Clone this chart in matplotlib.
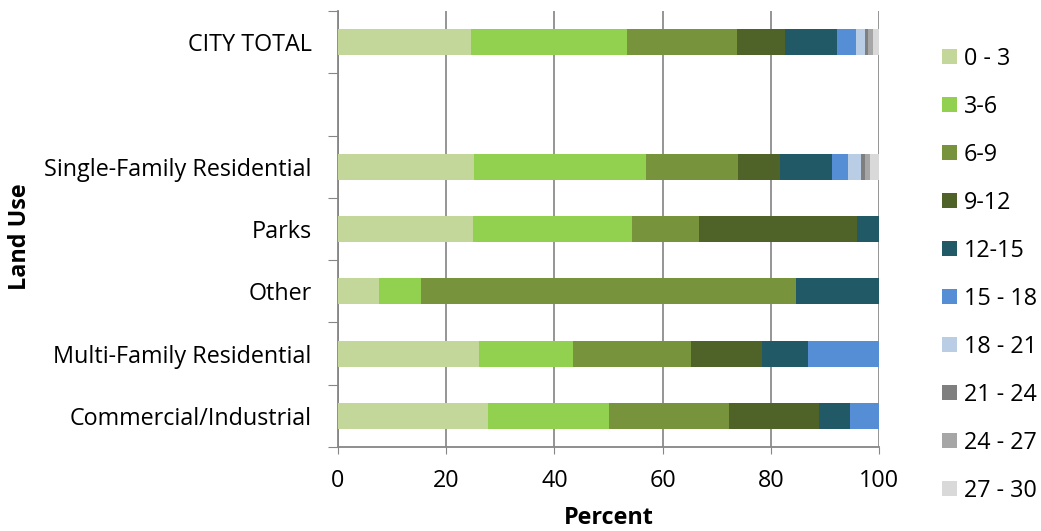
import matplotlib
matplotlib.use("Agg")
import matplotlib.pyplot as plt
import numpy as np

categories = ["CITY TOTAL", "", "Single-Family Residential", "Parks", "Other",
              "Multi-Family Residential", "Commercial/Industrial"]
classes = ["0 - 3", "3-6", "6-9", "9-12", "12-15", "15 - 18",
           "18 - 21", "21 - 24", "24 - 27", "27 - 30"]
colors = ["#C4D79B", "#92D050", "#77933C", "#4F6228", "#215967",
          "#558ED5", "#B9CDE5", "#7F7F7F", "#A6A6A6", "#D9D9D9"]

# percent of each land use falling in each class (rows follow `categories`)
city_total    = [24.5, 29.0, 20.2, 8.9, 9.6, 3.5, 1.8, 0.5, 0.9, 1.1]
blank_row     = [0, 0, 0, 0, 0, 0, 0, 0, 0, 0]
single_family = [25.2, 31.8, 16.9, 7.8, 9.7, 2.9, 2.3, 0.8, 0.9, 1.7]
parks         = [25.0, 29.3, 12.5, 29.2, 4.0, 0, 0, 0, 0, 0]
other         = [7.6, 7.8, 69.3, 0, 15.3, 0, 0, 0, 0, 0]
multi_family  = [26.1, 17.4, 21.8, 13.0, 8.6, 13.1, 0, 0, 0, 0]
commercial    = [27.7, 22.3, 22.3, 16.6, 5.7, 5.4, 0, 0, 0, 0]

rows = np.array([city_total, blank_row, single_family, parks, other,
                 multi_family, commercial], dtype=float)

plt.rcParams["font.family"] = ["Open Sans", "DejaVu Sans"]
FS = 16.8

fig = plt.figure(figsize=(10.41, 5.31), dpi=100)
ax = fig.add_axes([0.3247, 0.158, 0.5197, 0.8213])

y = np.arange(len(categories))
left = np.zeros(len(categories))
for j, (name, col) in enumerate(zip(classes, colors)):
    vals = rows[:, j]
    ax.barh(y, vals, left=left, height=0.42, color=col, label=name,
            edgecolor="none", zorder=3)
    left += vals

ax.set_xlim(0, 100)
ax.set_ylim(len(categories) - 0.5, -0.5)
ax.set_xticks(np.arange(0, 101, 20))
ax.tick_params(axis="x", labelsize=FS, length=5, color="#868686",
               direction="out", pad=11)

# tick marks sit between categories, labels sit at the bar centres
ax.set_yticks(np.arange(-0.5, len(categories), 1.0))
ax.set_yticklabels([])
ax.tick_params(axis="y", which="major", length=7, color="#868686", direction="out")
ax.set_yticks(y, minor=True)
ax.set_yticklabels(categories, minor=True)
ax.tick_params(axis="y", which="minor", length=0, labelsize=FS, pad=19)

ax.grid(axis="x", color="#8C8C8C", linewidth=1.3, zorder=0)
ax.set_axisbelow(True)
for side in ["top", "right"]:
    ax.spines[side].set_visible(False)
for side in ["left", "bottom"]:
    ax.spines[side].set_color("#868686")
    ax.spines[side].set_linewidth(1.3)

fig.text(0.5845, 0.024, "Percent", fontsize=FS, fontweight="bold",
         ha="center", va="center")
fig.text(0.019, 0.555, "Land Use", fontsize=FS, fontweight="bold",
         ha="center", va="center", rotation=90)

handles, labels = ax.get_legend_handles_labels()
fig.legend(handles, labels, loc="upper left", bbox_to_anchor=(0.905, 0.912),
           bbox_transform=fig.transFigure, frameon=False, fontsize=FS,
           handlelength=0.63, handleheight=0.63, handletextpad=0.3,
           labelspacing=1.03, borderaxespad=0, borderpad=0)

fig.savefig("out.png", dpi=100)
